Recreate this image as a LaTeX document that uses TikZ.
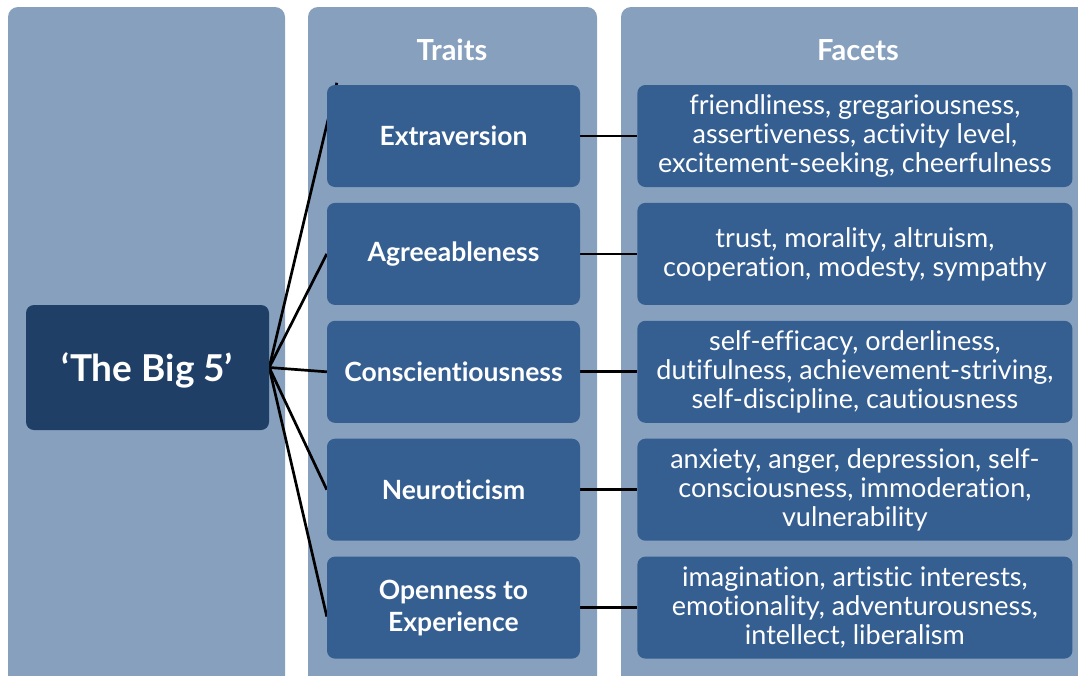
\documentclass[tikz,border=0pt]{standalone}
\usepackage{fontspec}
\setmainfont{Lato}[Ligatures=NoCommon]
\usetikzlibrary{positioning,backgrounds}
\definecolor{panelblue}{RGB}{135,160,189}
\definecolor{traitblue}{RGB}{53,94,145}
\definecolor{bigblue}{RGB}{31,63,102}

\tikzset{
  panel/.style={fill=panelblue, rounded corners=10pt},
  traitbox/.style={fill=traitblue, text=white, rounded corners=8pt, minimum width=253pt, minimum height=102pt, inner sep=0pt, align=center, font=\fontsize{26.5}{32}\selectfont\bfseries},
  facetbox/.style={fill=traitblue, text=white, rounded corners=8pt, minimum width=435pt, minimum height=102pt, inner sep=0pt, align=center, font=\fontsize{27}{29}\selectfont},
  heading/.style={text=white, font=\fontsize{29}{32}\selectfont\bfseries},
  link/.style={line width=2.7pt, black}
}

\begin{document}
\begin{tikzpicture}[x=1pt, y=-1pt]
  \useasboundingbox (0,0) rectangle (1078,675);

  % central node
  \node[fill=bigblue, text=white, rounded corners=8pt, minimum width=243pt, minimum height=125pt, text depth=0pt, font=\fontsize{37}{40}\selectfont\bfseries] (big) at (147.5,367.5) {‘The Big 5’};

  % traits
  \node[heading] (traitshead) at (452,50) {Traits};
  \node[traitbox] (extra) at (453.5,136) {Extraversion};
  \node[traitbox, below=15.5pt of extra] (agree) {Agreeableness};
  \node[traitbox, below=15.5pt of agree] (consc) {Conscientiousness};
  \node[traitbox, below=15.5pt of consc] (neuro) {Neuroticism};
  \node[traitbox, below=15.5pt of neuro] (open) {Openness to\\Experience};

  % facets
  \node[heading] (facetshead) at (858,50) {Facets};
  \node[facetbox, right=57pt of extra] (extraf) {friendliness, gregariousness,\\assertiveness, activity level,\\excitement-seeking, cheerfulness};
  \node[facetbox, right=57pt of agree] (agreef) {trust, morality, altruism,\\cooperation, modesty, sympathy};
  \node[facetbox, right=57pt of consc] (conscf) {self-efficacy, orderliness,\\dutifulness, achievement-striving,\\self-discipline, cautiousness};
  \node[facetbox, right=57pt of neuro] (neurof) {anxiety, anger, depression, self-\\consciousness, immoderation,\\vulnerability};
  \node[facetbox, right=57pt of open] (openf) {imagination, artistic interests,\\emotionality, adventurousness,\\intellect, liberalism};

  \begin{scope}[on background layer]
    % columns
    \fill[panel] (8,7) rectangle (285,700);
    \fill[panel] (308,7) rectangle (597,700);
    \fill[panel] (621,7) rectangle (1100,700);
    % links
    \draw[link] (big.east) -- ([xshift=10pt, yshift=2pt]extra.north west);
    \draw[link] (big.east) -- (agree.west);
    \draw[link] (big.east) -- (consc.west);
    \draw[link] (big.east) -- (neuro.west);
    \draw[link] (big.east) -- ([yshift=-9pt]open.west);
    \foreach \t in {extra,agree,consc,neuro,open}
      \draw[link] (\t.east) -- (\t f.west);
  \end{scope}
\end{tikzpicture}
\end{document}
